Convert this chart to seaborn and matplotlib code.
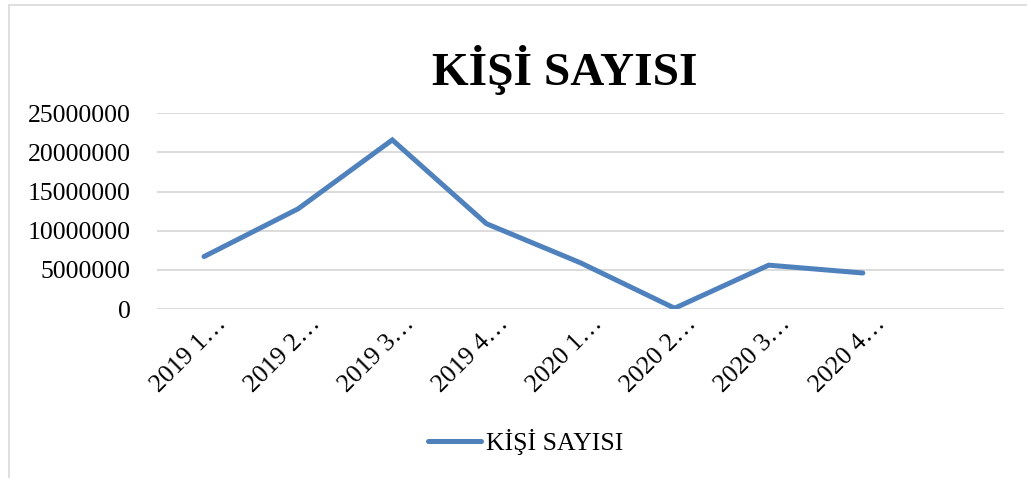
import matplotlib
matplotlib.use("Agg")
import matplotlib.pyplot as plt
import matplotlib.transforms as mtransforms
import seaborn as sns
import pandas as pd

categories = ["2019 1…", "2019 2…", "2019 3…", "2019 4…",
              "2020 1…", "2020 2…", "2020 3…", "2020 4…"]
values = [6700000, 12800000, 21600000, 10900000,
          5900000, 100000, 5600000, 4600000]
yticks = [0, 5000000, 10000000, 15000000, 20000000, 25000000]
series_name = "KİŞİ SAYISI"
title_text = "KİŞİ SAYISI"

sns.set_theme(style="white")
plt.rcParams['font.family'] = ['Liberation Serif', 'DejaVu Serif']
plt.rcParams['text.color'] = 'black'
plt.rcParams['axes.labelcolor'] = 'black'

W, H = 1027, 478
fig = plt.figure(figsize=(W / 100, H / 100), dpi=100)
ax = fig.add_axes([157 / W, 1 - 309 / H, (1004 - 157) / W, (309 - 113.3) / H])

df = pd.DataFrame({"pos": list(range(len(categories))), "val": values,
                   "series": series_name})
sns.lineplot(data=df, x="pos", y="val", hue="series", palette=["#4F81BD"],
             linewidth=3.6, solid_capstyle="round", solid_joinstyle="miter",
             ax=ax, legend=True)

ax.set_xlim(-0.5, len(categories) + 0.5)
ax.set_ylim(0, 25000000)
ax.set_yticks(yticks)
ax.set_yticklabels([str(v) for v in yticks], fontsize=18.5)
ax.set_xticks(list(range(len(categories))))
ax.set_xticklabels(categories, fontsize=18.5, rotation=45, ha="right",
                   va="baseline", rotation_mode="anchor")
ax.set_xlabel("")
ax.set_ylabel("")
ax.grid(axis="y", color="#D9D9D9", linewidth=1.3)
ax.grid(axis="x", visible=False)
ax.set_axisbelow(True)
for s in ax.spines.values():
    s.set_visible(False)
ax.tick_params(axis="y", length=0, pad=19, colors="black")
ax.tick_params(axis="x", length=0, pad=0, colors="black")

off = mtransforms.ScaledTranslation(23 / 100, -16 / 100, fig.dpi_scale_trans)
for lab in ax.get_xticklabels():
    lab.set_transform(lab.get_transform() + off)

handles, labels = ax.get_legend_handles_labels()
leg = ax.legend(handles, labels, loc="center", bbox_to_anchor=(526 / W, 1 - 442 / H),
                bbox_transform=fig.transFigure, frameon=False, fontsize=18.5,
                handlelength=2.05, handletextpad=0.2)
for t in leg.get_texts():
    t.set_color("black")

fig.text(565 / W, 1 - 85 / H, title_text, ha="center", va="baseline",
         fontsize=34, fontweight="bold", color="black")

# chart area border (left and top visible)
fig.add_artist(plt.Line2D([9 / W, 9 / W], [0, 1 - 5 / H], transform=fig.transFigure,
                          color="#D9D9D9", linewidth=1.2))
fig.add_artist(plt.Line2D([9 / W, 1], [1 - 5 / H, 1 - 5 / H], transform=fig.transFigure,
                          color="#D9D9D9", linewidth=1.2))

fig.savefig("out.png", dpi=100, facecolor="white")
